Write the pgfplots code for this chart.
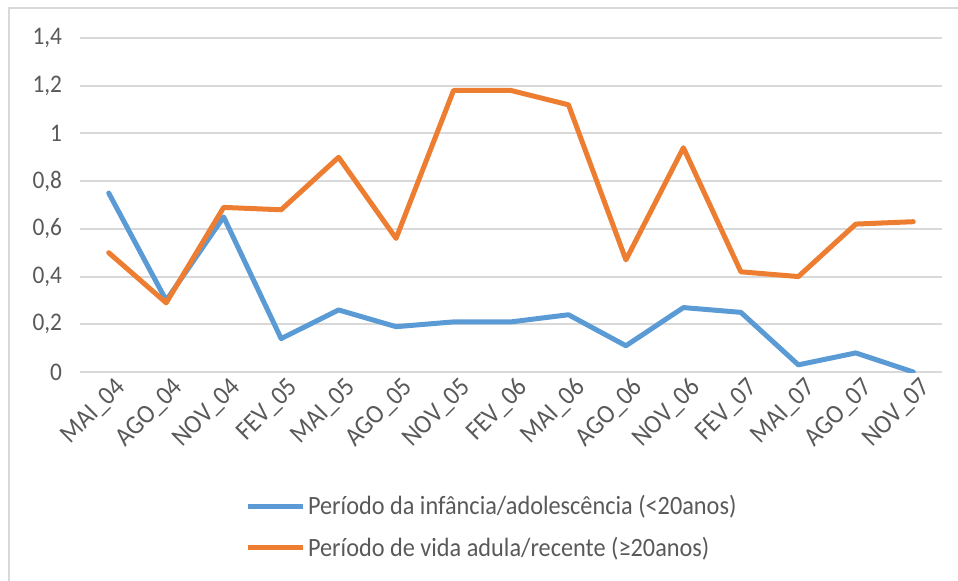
\documentclass[border=0pt]{standalone}
\usepackage{fontspec}
\setmainfont[FakeStretch=0.92]{Carlito}
\usepackage{pgfplots}
\pgfplotsset{compat=1.18}
\definecolor{sblue}{HTML}{5B9BD5}
\definecolor{sorange}{HTML}{ED7D31}
\definecolor{gridc}{HTML}{D9D9D9}
\definecolor{txt}{HTML}{595959}
\begin{document}
\begin{tikzpicture}
\path[use as bounding box] (0,0) rectangle (718.5pt,-435.75pt);
\begin{scope}
\clip (0,0) rectangle (718.5pt,-435.75pt);
\draw[gridc, line width=1.5pt] (6.75pt,-450pt) -- (6.75pt,-6pt) -- (730pt,-6pt);
\end{scope}
\begin{axis}[
  at={(60pt,-279pt)}, anchor=south west,
  scale only axis, width=646.5pt, height=250.5pt,
  xmin=-0.5, xmax=14.5, ymin=0, ymax=1.4,
  ytick={0,0.2,...,1.4},
  xtick={0,...,14},
  xticklabels={MAI\_04,AGO\_04,NOV\_04,FEV\_05,MAI\_05,AGO\_05,NOV\_05,FEV\_06,MAI\_06,AGO\_06,NOV\_06,FEV\_07,MAI\_07,AGO\_07,NOV\_07},
  x tick label style={rotate=45, anchor=east, font=\fontsize{20}{22}\selectfont, text=txt, yshift=-13pt, xshift=4pt},
  y tick label style={font=\fontsize{19}{20}\selectfont, text=txt, xshift=-10pt},
  /pgf/number format/assume math mode=true,
  /pgf/number format/use comma,
  /pgf/number format/fixed,
  /pgf/number format/precision=1,
  major tick length=0pt,
  axis lines*=left,
  axis line style={draw=none},
  ymajorgrids,
  grid style={gridc, line width=1.5pt},
  legend style={at={(0.4785,-0.353)}, anchor=north, draw=none, fill=none,
    font=\fontsize{19.8}{21}\selectfont, text=txt, row sep=11pt, legend cell align=left,
    nodes={inner xsep=2pt}},
  legend cell align=left,
  legend image code/.code={\draw[#1, line cap=butt] (0pt,0pt) -- (41pt,0pt);},
]
\addplot[sblue, line width=3.75pt, line join=round, line cap=round] coordinates {
(0,0.75) (1,0.30) (2,0.65) (3,0.14) (4,0.26) (5,0.19) (6,0.21) (7,0.21)
(8,0.24) (9,0.11) (10,0.27) (11,0.25) (12,0.03) (13,0.08) (14,0.00)};
\addlegendentry{Período da infância/adolescência (<20anos)}
\addplot[sorange, line width=3.75pt, line join=round, line cap=round] coordinates {
(0,0.50) (1,0.29) (2,0.69) (3,0.68) (4,0.90) (5,0.56) (6,1.18) (7,1.18)
(8,1.12) (9,0.47) (10,0.94) (11,0.42) (12,0.40) (13,0.62) (14,0.63)};
\addlegendentry{Período de vida adula/recente (≥20anos)}
\end{axis}
\end{tikzpicture}
\end{document}
